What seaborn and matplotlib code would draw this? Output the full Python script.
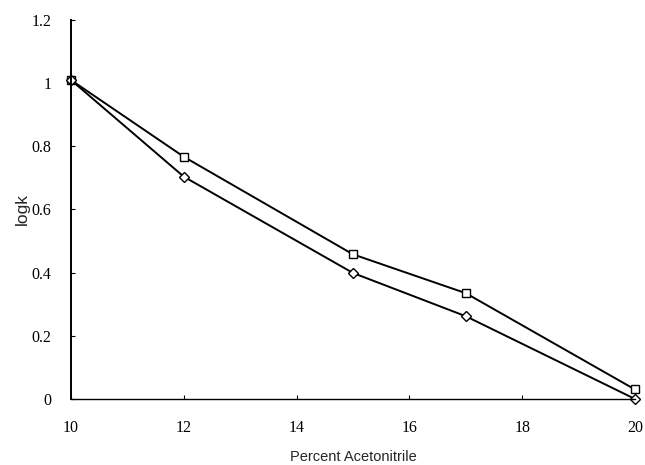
import numpy as np
import pandas as pd

import matplotlib
matplotlib.use("Agg")
import matplotlib.pyplot as plt
import seaborn as sns

percent = [10, 12, 15, 17, 20]
logk_square = [1.01, 0.767, 0.458, 0.335, 0.03]
logk_diamond = [1.01, 0.704, 0.399, 0.262, 0.0]

x_ticks = [10, 12, 14, 16, 18, 20]
y_ticks = [0, 0.2, 0.4, 0.6, 0.8, 1.0, 1.2]
y_tick_labels = ["0", "0.2", "0.4", "0.6", "0.8", "1", "1.2"]

df = pd.DataFrame({
    "percent": percent * 2,
    "logk": logk_square + logk_diamond,
    "series": ["square"] * len(percent) + ["diamond"] * len(percent),
})

sns.set_style("white")

fig = plt.figure(figsize=(6.45, 4.65), dpi=100)
ax = fig.add_axes([0.110, 0.142, 0.8745, 0.815])

sns.lineplot(data=df, x="percent", y="logk", style="series",
             markers={"square": "s", "diamond": "D"}, dashes=False,
             color="black", legend=False, ax=ax,
             linewidth=1.4, markersize=5.5, markerfacecolor="white",
             markeredgecolor="black", markeredgewidth=1.0)
for line in ax.lines:
    line.set_clip_on(False)

ax.set_xlim(10, 20)
ax.set_ylim(0, 1.2)
ax.set_xticks(x_ticks)
ax.set_xticklabels([str(t) for t in x_ticks], fontfamily="Liberation Serif", fontsize=11.5)
ax.set_yticks(y_ticks)
ax.set_yticklabels(y_tick_labels, fontfamily="Liberation Serif", fontsize=11.5)
ax.tick_params(axis="both", direction="in", length=3, width=0.8, colors="black",
               bottom=True, left=True)
ax.tick_params(axis="x", pad=15)
ax.tick_params(axis="y", pad=14)

for side in ["top", "right"]:
    ax.spines[side].set_visible(False)
ax.spines["left"].set_linewidth(1.4)
ax.spines["bottom"].set_linewidth(1.0)
ax.spines["left"].set_color("black")
ax.spines["bottom"].set_color("black")

ax.set_xlabel("Percent Acetonitrile", fontfamily="Liberation Sans",
              fontsize=10.5, labelpad=10)
ax.set_ylabel("logk", fontfamily="Liberation Sans", fontsize=12.5, labelpad=1)

fig.savefig("out.png", dpi=100)
